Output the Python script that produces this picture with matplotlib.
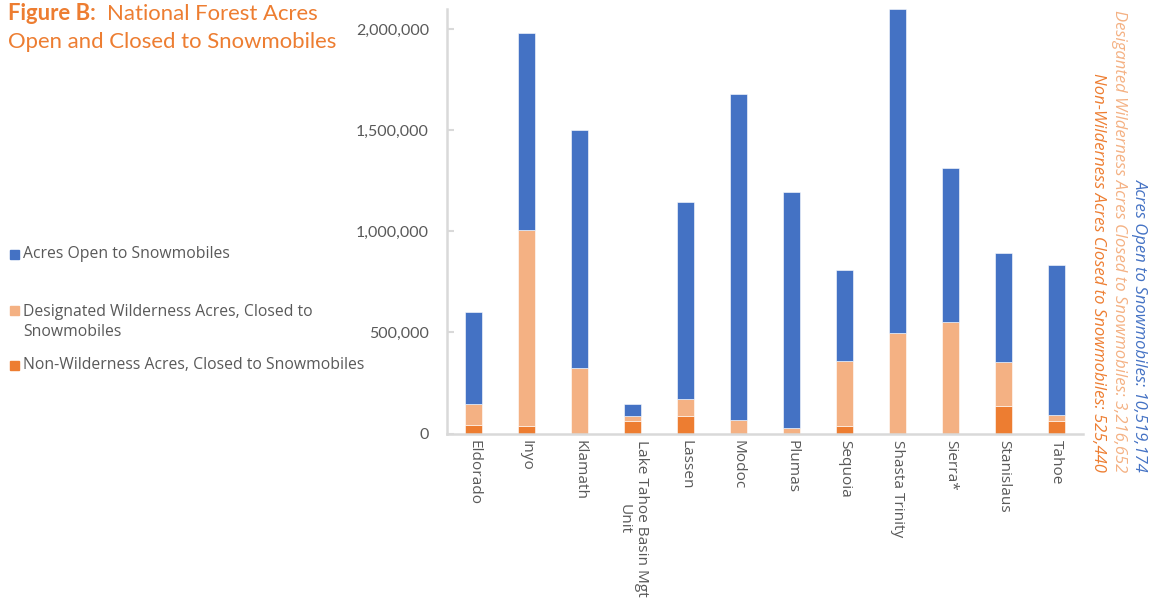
import matplotlib.pyplot as plt
from matplotlib.patches import Rectangle
import numpy as np

forests = ['Eldorado', 'Inyo', 'Klamath', 'Lake Tahoe Basin Mgt\nUnit', 'Lassen',
           'Modoc', 'Plumas', 'Sequoia', 'Shasta Trinity', 'Sierra*',
           'Stanislaus', 'Tahoe']
non_wilderness = [42000, 37000, 0, 63000, 88000, 0, 0, 37000, 0, 0, 138000, 63000]
wilderness = [105000, 968000, 326000, 25000, 81000, 65000, 29000, 320000,
              499000, 552000, 216000, 27000]
open_acres = [456000, 978000, 1176000, 58000, 976000, 1613000, 1166000, 452000,
              1601000, 762000, 539000, 744000]

series_names = ['Acres Open to Snowmobiles',
                'Designated Wilderness Acres, Closed to\nSnowmobiles',
                'Non-Wilderness Acres, Closed to Snowmobiles']
totals_text = ['Acres Open to Snowmobiles: 10,519,174',
               'Desiganted Wilderness Acres Closed to Snowmobiles: 3,216,652',
               'Non-Wilderness Acres Closed to Snowmobiles: 525,440']

BLUE = '#4472C4'
LIGHT = '#F4B183'
ORANGE = '#ED7D31'
GRAY = '#595959'
W, H = 1151, 606

fig = plt.figure(figsize=(W / 100, H / 100), dpi=100)
ax = fig.add_axes([447 / W, (H - 433.5) / H, 636 / W, 424.4 / H])

x = np.arange(len(forests))
nw = np.array(non_wilderness)
wd = np.array(wilderness)
op = np.array(open_acres)
bw = 0.31
ax.bar(x, nw, bw, color=ORANGE, edgecolor='white', linewidth=0.4)
ax.bar(x, wd, bw, bottom=nw, color=LIGHT, edgecolor='white', linewidth=0.4)
ax.bar(x, op, bw, bottom=nw + wd, color=BLUE, edgecolor='white', linewidth=0.4)

ax.set_xlim(-0.5, len(forests) - 0.5)
ax.set_ylim(0, 2100000)
ax.set_yticks(np.arange(0, 2000001, 500000))
ax.set_yticklabels([f'{v:,}' for v in range(0, 2000001, 500000)],
                   family='Lato', fontsize=11.5)
ax.tick_params(axis='y', direction='in', length=5, width=1.5, color='#d9d9d9',
               labelcolor=GRAY, pad=13)
ax.set_xticks(x)
ax.set_xticklabels(forests, rotation=-90, ha='center', va='top',
                   multialignment='center', family='Open Sans', fontsize=11.1)
ax.tick_params(axis='x', length=0, labelcolor=GRAY, pad=5)
for s in ['top', 'right']:
    ax.spines[s].set_visible(False)
for s in ['left', 'bottom']:
    ax.spines[s].set_color('#d9d9d9')
    ax.spines[s].set_linewidth(1.8)

# title: bold lead-in followed by regular text
t1 = fig.text(8 / W, 1 - 20 / H, 'Figure B:', color=ORANGE, family='Lato',
              fontsize=15.9, fontweight='bold', va='baseline')
fig.canvas.draw()
bb = t1.get_window_extent()
fig.text((bb.x1 + 11) / W, 1 - 20 / H, 'National Forest Acres', color=ORANGE,
         family='Lato', fontsize=15.9, va='baseline')
fig.text(8 / W, 1 - 48 / H, 'Open and Closed to Snowmobiles', color=ORANGE,
         family='Lato', fontsize=15.9, va='baseline')

# legend
leg_y = [254, 310, 365]
for yy, name, col in zip(leg_y, series_names, [BLUE, LIGHT, ORANGE]):
    fig.patches.append(Rectangle((10 / W, 1 - (yy + 4.5) / H), 9 / W, 9 / H,
                                 transform=fig.transFigure, color=col))
    two_line = '\n' in name
    fig.text(23 / W, 1 - (yy - 6 if two_line else yy) / H, name, color=GRAY,
             family='Open Sans', fontsize=11.3,
             va='top' if two_line else 'center', linespacing=1.36)

# summed totals on the right
for xx, txt, col in zip([1140, 1119, 1098], totals_text, [BLUE, LIGHT, ORANGE]):
    fig.text(xx / W, 1 - 472 / H, txt, color=col, rotation=-90, ha='center',
             va='bottom', family='Open Sans', style='italic', fontsize=12)

fig.savefig('out.png', dpi=100, facecolor='white')
